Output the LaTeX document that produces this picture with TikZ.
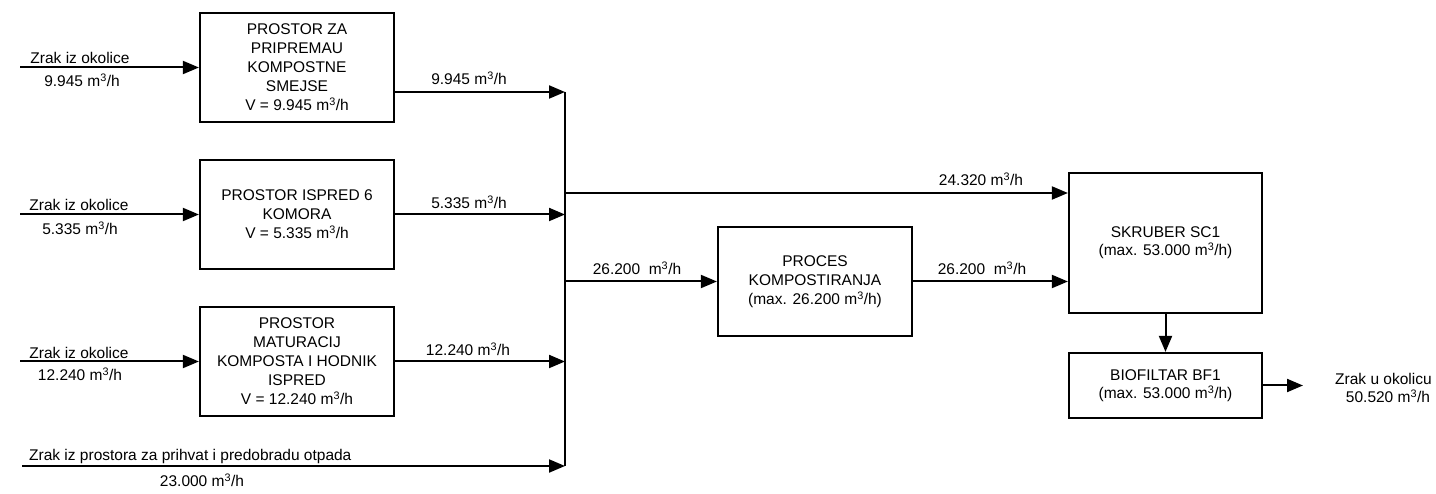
\documentclass[tikz,border=0pt]{standalone}
\usepackage{fontspec}
\setmainfont{Liberation Sans}
\usetikzlibrary{arrows.meta}
\newcommand\dgfont{\fontsize{15.5}{19}\selectfont}
\newcommand\mh{m\textsuperscript{3}/h}
\begin{document}
\begin{tikzpicture}[x=1pt,y=-1pt,
  box/.style={draw, line width=2.2pt, minimum width=194pt, minimum height=109pt,
    inner sep=0pt, align=center, font=\dgfont},
  flow/.style={line width=2pt, -{Triangle[length=16pt,width=13pt]}},
  plain/.style={line width=2pt},
  lbl/.style={font=\dgfont, inner sep=0pt, align=center}]
\fill[white] (0,0) rectangle (1436,494);
\useasboundingbox (0,0) rectangle (1436,494);

% boxes
\node[box] (b1) at (297,67.5) {PROSTOR ZA\\PRIPREMAU\\KOMPOSTNE\\SMEJSE\\V = 9.945 \mh};
\node[box] (b2) at (297,214.5) {PROSTOR ISPRED 6\\KOMORA\\V = 5.335 \mh};
\node[box] (b3) at (297,361.5) {PROSTOR\\MATURACIJ\\KOMPOSTA I HODNIK\\ISPRED\\V = 12.240 \mh};
\node[box] (pk) at (815,281.5) {PROCES\\KOMPOSTIRANJA\\(max. 26.200 \mh)};
\node[box, minimum width=193pt, minimum height=140pt, font=\fontsize{15.5}{18}\selectfont] (sk) at (1165.5,243) {SKRUBER SC1\\(max. 53.000 \mh)};
\node[box, minimum width=193pt, minimum height=65pt, font=\fontsize{15.5}{18}\selectfont] (bf) at (1165.5,385.5) {BIOFILTAR BF1\\(max. 53.000 \mh)};

% coordinates
\coordinate (in1) at (20,67.5);
\coordinate (in2) at (20,214.5);
\coordinate (in3) at (20,361.5);
\coordinate (in4) at (22,466);
\coordinate (bus1) at (565,92);
\coordinate (bus4) at (565,466);
\coordinate (j1) at (565,193);
\coordinate (j2) at (565,281.5);
\coordinate (out) at (1303,385.5);

% inputs
\draw[flow] (in1) -- (b1.west);
\draw[flow] (in2) -- (b2.west);
\draw[flow] (in3) -- (b3.west);
\draw[flow] (in4) -- (bus4);

% outputs to bus
\draw[flow] (b1.east |- bus1) -- (bus1);
\draw[flow] (b2.east) -- (b2.east -| bus1);
\draw[flow] (b3.east) -- (b3.east -| bus1);
\draw[plain] (bus1) -- (bus4);

% right side
\draw[flow] (j1) -- (j1 -| sk.west);
\draw[flow] (j2) -- (pk.west);
\draw[flow] (pk.east) -- (pk.east -| sk.west);
\draw[flow] (sk.south) -- (bf.north);
\draw[flow] (bf.east) -- (out);

% labels
\node[lbl] (la1) at (80,58) {Zrak iz okolice};
\node[lbl] (lb1) at (82,80) {9.945 \mh};
\node[lbl] (la2) at (79,205) {Zrak iz okolice};
\node[lbl] (lb2) at (80,228) {5.335 \mh};
\node[lbl] (la3) at (79,353) {Zrak iz okolice};
\node[lbl] (lb3) at (80,374) {12.240 \mh};
\node[lbl, anchor=west] (la4) at (29,456) {Zrak iz prostora za prihvat i predobradu otpada};
\node[lbl] (lb4) at (202,480) {23.000 \mh};

\node[lbl] (o1) at (469,78) {9.945 \mh};
\node[lbl] (o2) at (469,202) {5.335 \mh};
\node[lbl] (o3) at (468,349) {12.240 \mh};
\node[lbl] (r1) at (981,179) {24.320 \mh};
\node[lbl] (r2) at (637,268) {26.200\ \ \mh};
\node[lbl] (r3) at (982,268) {26.200\ \ \mh};
\node[lbl, anchor=west] (z1) at (1335,379) {Zrak u okolicu};
\node[lbl] (z2) at (1388,396) {50.520 \mh};
\end{tikzpicture}
\end{document}
